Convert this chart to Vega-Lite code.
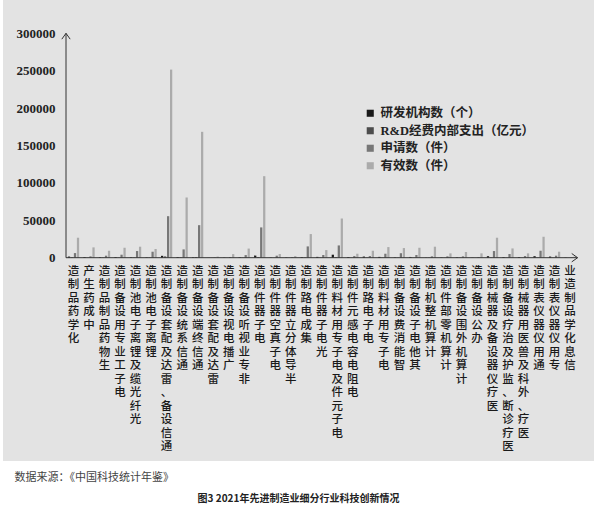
{
  "$schema": "https://vega.github.io/schema/vega-lite/v6.json",
  "width": 591,
  "height": 461,
  "autosize": {"type": "none"},
  "padding": {"left": 3, "top": 0, "right": 6, "bottom": 48},
  "background": "white",
  "title": {
    "text": "图3 2021年先进制造业细分行业科技创新情况",
    "orient": "bottom",
    "anchor": "middle",
    "frame": "group",
    "font": "Noto Sans CJK SC",
    "fontSize": 10,
    "fontWeight": "bold",
    "color": "#222",
    "offset": 12
  },
  "datasets": {
    "rd": [
      {"industry": "化学药品制造", "series": "研发机构数（个）", "value": 1500},
      {"industry": "化学药品制造", "series": "R&D经费内部支出（亿元）", "value": 560},
      {"industry": "化学药品制造", "series": "申请数（件）", "value": 6200},
      {"industry": "化学药品制造", "series": "有效数（件）", "value": 26700},
      {"industry": "中成药生产", "series": "研发机构数（个）", "value": 900},
      {"industry": "中成药生产", "series": "R&D经费内部支出（亿元）", "value": 150},
      {"industry": "中成药生产", "series": "申请数（件）", "value": 1800},
      {"industry": "中成药生产", "series": "有效数（件）", "value": 13800},
      {"industry": "生物药品制品制造", "series": "研发机构数（个）", "value": 700},
      {"industry": "生物药品制品制造", "series": "R&D经费内部支出（亿元）", "value": 260},
      {"industry": "生物药品制品制造", "series": "申请数（件）", "value": 2700},
      {"industry": "生物药品制品制造", "series": "有效数（件）", "value": 9300},
      {"industry": "电子工业专用设备制造", "series": "研发机构数（个）", "value": 900},
      {"industry": "电子工业专用设备制造", "series": "R&D经费内部支出（亿元）", "value": 250},
      {"industry": "电子工业专用设备制造", "series": "申请数（件）", "value": 4000},
      {"industry": "电子工业专用设备制造", "series": "有效数（件）", "value": 13300},
      {"industry": "光纤光缆及锂离子电池制造", "series": "研发机构数（个）", "value": 600},
      {"industry": "光纤光缆及锂离子电池制造", "series": "R&D经费内部支出（亿元）", "value": 330},
      {"industry": "光纤光缆及锂离子电池制造", "series": "申请数（件）", "value": 8900},
      {"industry": "光纤光缆及锂离子电池制造", "series": "有效数（件）", "value": 14700},
      {"industry": "锂离子电池制造", "series": "研发机构数（个）", "value": 500},
      {"industry": "锂离子电池制造", "series": "R&D经费内部支出（亿元）", "value": 300},
      {"industry": "锂离子电池制造", "series": "申请数（件）", "value": 8000},
      {"industry": "锂离子电池制造", "series": "有效数（件）", "value": 11600},
      {"industry": "通信设备、雷达及配套设备制造", "series": "研发机构数（个）", "value": 2500},
      {"industry": "通信设备、雷达及配套设备制造", "series": "R&D经费内部支出（亿元）", "value": 1700},
      {"industry": "通信设备、雷达及配套设备制造", "series": "申请数（件）", "value": 55500},
      {"industry": "通信设备、雷达及配套设备制造", "series": "有效数（件）", "value": 251500},
      {"industry": "通信系统设备制造", "series": "研发机构数（个）", "value": 900},
      {"industry": "通信系统设备制造", "series": "R&D经费内部支出（亿元）", "value": 560},
      {"industry": "通信系统设备制造", "series": "申请数（件）", "value": 11100},
      {"industry": "通信系统设备制造", "series": "有效数（件）", "value": 80500},
      {"industry": "通信终端设备制造", "series": "研发机构数（个）", "value": 700},
      {"industry": "通信终端设备制造", "series": "R&D经费内部支出（亿元）", "value": 960},
      {"industry": "通信终端设备制造", "series": "申请数（件）", "value": 43500},
      {"industry": "通信终端设备制造", "series": "有效数（件）", "value": 168300},
      {"industry": "雷达及配套设备制造", "series": "研发机构数（个）", "value": 100},
      {"industry": "雷达及配套设备制造", "series": "R&D经费内部支出（亿元）", "value": 90},
      {"industry": "雷达及配套设备制造", "series": "申请数（件）", "value": 500},
      {"industry": "雷达及配套设备制造", "series": "有效数（件）", "value": 1500},
      {"industry": "广播电视设备制造", "series": "研发机构数（个）", "value": 300},
      {"industry": "广播电视设备制造", "series": "R&D经费内部支出（亿元）", "value": 40},
      {"industry": "广播电视设备制造", "series": "申请数（件）", "value": 900},
      {"industry": "广播电视设备制造", "series": "有效数（件）", "value": 4800},
      {"industry": "非专业视听设备制造", "series": "研发机构数（个）", "value": 600},
      {"industry": "非专业视听设备制造", "series": "R&D经费内部支出（亿元）", "value": 120},
      {"industry": "非专业视听设备制造", "series": "申请数（件）", "value": 3500},
      {"industry": "非专业视听设备制造", "series": "有效数（件）", "value": 12200},
      {"industry": "电子器件制造", "series": "研发机构数（个）", "value": 2800},
      {"industry": "电子器件制造", "series": "R&D经费内部支出（亿元）", "value": 800},
      {"industry": "电子器件制造", "series": "申请数（件）", "value": 40500},
      {"industry": "电子器件制造", "series": "有效数（件）", "value": 109000},
      {"industry": "电子真空器件制造", "series": "研发机构数（个）", "value": 300},
      {"industry": "电子真空器件制造", "series": "R&D经费内部支出（亿元）", "value": 40},
      {"industry": "电子真空器件制造", "series": "申请数（件）", "value": 2700},
      {"industry": "电子真空器件制造", "series": "有效数（件）", "value": 4900},
      {"industry": "半导体分立器件制造", "series": "研发机构数（个）", "value": 400},
      {"industry": "半导体分立器件制造", "series": "R&D经费内部支出（亿元）", "value": 60},
      {"industry": "半导体分立器件制造", "series": "申请数（件）", "value": 700},
      {"industry": "半导体分立器件制造", "series": "有效数（件）", "value": 2200},
      {"industry": "集成电路制造", "series": "研发机构数（个）", "value": 800},
      {"industry": "集成电路制造", "series": "R&D经费内部支出（亿元）", "value": 380},
      {"industry": "集成电路制造", "series": "申请数（件）", "value": 15100},
      {"industry": "集成电路制造", "series": "有效数（件）", "value": 31600},
      {"industry": "光电子器件制造", "series": "研发机构数（个）", "value": 1100},
      {"industry": "光电子器件制造", "series": "R&D经费内部支出（亿元）", "value": 200},
      {"industry": "光电子器件制造", "series": "申请数（件）", "value": 3600},
      {"industry": "光电子器件制造", "series": "有效数（件）", "value": 10200},
      {"industry": "电子元件及电子专用材料制造", "series": "研发机构数（个）", "value": 4000},
      {"industry": "电子元件及电子专用材料制造", "series": "R&D经费内部支出（亿元）", "value": 600},
      {"industry": "电子元件及电子专用材料制造", "series": "申请数（件）", "value": 16400},
      {"industry": "电子元件及电子专用材料制造", "series": "有效数（件）", "value": 52400},
      {"industry": "电阻电容电感元件制造", "series": "研发机构数（个）", "value": 900},
      {"industry": "电阻电容电感元件制造", "series": "R&D经费内部支出（亿元）", "value": 100},
      {"industry": "电阻电容电感元件制造", "series": "申请数（件）", "value": 2200},
      {"industry": "电阻电容电感元件制造", "series": "有效数（件）", "value": 5300},
      {"industry": "电子电路制造", "series": "研发机构数（个）", "value": 1500},
      {"industry": "电子电路制造", "series": "R&D经费内部支出（亿元）", "value": 180},
      {"industry": "电子电路制造", "series": "申请数（件）", "value": 2200},
      {"industry": "电子电路制造", "series": "有效数（件）", "value": 9300},
      {"industry": "电子专用材料制造", "series": "研发机构数（个）", "value": 1100},
      {"industry": "电子专用材料制造", "series": "R&D经费内部支出（亿元）", "value": 160},
      {"industry": "电子专用材料制造", "series": "申请数（件）", "value": 5300},
      {"industry": "电子专用材料制造", "series": "有效数（件）", "value": 14200},
      {"industry": "智能消费设备制造", "series": "研发机构数（个）", "value": 500},
      {"industry": "智能消费设备制造", "series": "R&D经费内部支出（亿元）", "value": 200},
      {"industry": "智能消费设备制造", "series": "申请数（件）", "value": 6000},
      {"industry": "智能消费设备制造", "series": "有效数（件）", "value": 12900},
      {"industry": "其他电子设备制造", "series": "研发机构数（个）", "value": 1000},
      {"industry": "其他电子设备制造", "series": "R&D经费内部支出（亿元）", "value": 150},
      {"industry": "其他电子设备制造", "series": "申请数（件）", "value": 3600},
      {"industry": "其他电子设备制造", "series": "有效数（件）", "value": 13300},
      {"industry": "计算机整机制造", "series": "研发机构数（个）", "value": 200},
      {"industry": "计算机整机制造", "series": "R&D经费内部支出（亿元）", "value": 200},
      {"industry": "计算机整机制造", "series": "申请数（件）", "value": 1800},
      {"industry": "计算机整机制造", "series": "有效数（件）", "value": 14700},
      {"industry": "计算机零部件制造", "series": "研发机构数（个）", "value": 400},
      {"industry": "计算机零部件制造", "series": "R&D经费内部支出（亿元）", "value": 80},
      {"industry": "计算机零部件制造", "series": "申请数（件）", "value": 1800},
      {"industry": "计算机零部件制造", "series": "有效数（件）", "value": 5800},
      {"industry": "计算机外围设备制造", "series": "研发机构数（个）", "value": 500},
      {"industry": "计算机外围设备制造", "series": "R&D经费内部支出（亿元）", "value": 150},
      {"industry": "计算机外围设备制造", "series": "申请数（件）", "value": 1800},
      {"industry": "计算机外围设备制造", "series": "有效数（件）", "value": 7600},
      {"industry": "办公设备制造", "series": "研发机构数（个）", "value": 200},
      {"industry": "办公设备制造", "series": "R&D经费内部支出（亿元）", "value": 30},
      {"industry": "办公设备制造", "series": "申请数（件）", "value": 700},
      {"industry": "办公设备制造", "series": "有效数（件）", "value": 5800},
      {"industry": "医疗仪器设备及器械制造", "series": "研发机构数（个）", "value": 2000},
      {"industry": "医疗仪器设备及器械制造", "series": "R&D经费内部支出（亿元）", "value": 320},
      {"industry": "医疗仪器设备及器械制造", "series": "申请数（件）", "value": 8900},
      {"industry": "医疗仪器设备及器械制造", "series": "有效数（件）", "value": 26700},
      {"industry": "医疗诊断、监护及治疗设备制造", "series": "研发机构数（个）", "value": 900},
      {"industry": "医疗诊断、监护及治疗设备制造", "series": "R&D经费内部支出（亿元）", "value": 150},
      {"industry": "医疗诊断、监护及治疗设备制造", "series": "申请数（件）", "value": 4900},
      {"industry": "医疗诊断、监护及治疗设备制造", "series": "有效数（件）", "value": 12400},
      {"industry": "医疗、外科及兽医用器械制造", "series": "研发机构数（个）", "value": 800},
      {"industry": "医疗、外科及兽医用器械制造", "series": "R&D经费内部支出（亿元）", "value": 60},
      {"industry": "医疗、外科及兽医用器械制造", "series": "申请数（件）", "value": 2200},
      {"industry": "医疗、外科及兽医用器械制造", "series": "有效数（件）", "value": 5800},
      {"industry": "通用仪器仪表制造", "series": "研发机构数（个）", "value": 2000},
      {"industry": "通用仪器仪表制造", "series": "R&D经费内部支出（亿元）", "value": 200},
      {"industry": "通用仪器仪表制造", "series": "申请数（件）", "value": 9300},
      {"industry": "通用仪器仪表制造", "series": "有效数（件）", "value": 28000},
      {"industry": "专用仪器仪表制造", "series": "研发机构数（个）", "value": 1500},
      {"industry": "专用仪器仪表制造", "series": "R&D经费内部支出（亿元）", "value": 180},
      {"industry": "专用仪器仪表制造", "series": "申请数（件）", "value": 2700},
      {"industry": "专用仪器仪表制造", "series": "有效数（件）", "value": 8000},
      {"industry": "信息化学品制造业", "series": "研发机构数（个）", "value": 300},
      {"industry": "信息化学品制造业", "series": "R&D经费内部支出（亿元）", "value": 30},
      {"industry": "信息化学品制造业", "series": "申请数（件）", "value": 500},
      {"industry": "信息化学品制造业", "series": "有效数（件）", "value": 1500}
    ]
  },
  "layer": [
    {
      "data": {"name": "rd"},
      "mark": {"type": "bar"},
      "encoding": {
        "x": {
          "field": "industry",
          "type": "nominal",
          "sort": null,
          "scale": {"range": [63, 574.6], "paddingInner": 0.033, "paddingOuter": 0},
          "axis": {
            "orient": "bottom",
            "offset": -203,
            "domain": false,
            "ticks": false,
            "grid": false,
            "labelAngle": 0,
            "labelAlign": "center",
            "labelBaseline": "top",
            "labelPadding": 7,
            "labelExpr": "reverse(split(datum.label, ''))",
            "labelFont": "Noto Sans CJK SC",
            "labelFontSize": 11.5,
            "labelFontWeight": 500,
            "labelLineHeight": 13.5,
            "labelColor": "#1a1a1a",
            "labelOverlap": false,
            "labelLimit": 0,
            "title": "数据来源：《中国科技统计年鉴》",
            "titleAnchor": "start",
            "titleAlign": "left",
            "titleBaseline": "middle",
            "titleX": 11,
            "titleY": 219,
            "titleFont": "Noto Sans CJK SC",
            "titleFontSize": 11,
            "titleFontWeight": "normal",
            "titleColor": "#444"
          }
        },
        "xOffset": {
          "field": "series",
          "sort": ["研发机构数（个）", "R&D经费内部支出（亿元）", "申请数（件）", "有效数（件）"],
          "scale": {"paddingInner": 0.25, "paddingOuter": 0.625}
        },
        "y": {
          "field": "value",
          "type": "quantitative",
          "stack": null,
          "scale": {"domain": [-271791, 344519], "nice": false, "zero": false},
          "axis": {
            "orient": "left",
            "offset": -54,
            "values": [0, 50000, 100000, 150000, 200000, 250000, 300000],
            "format": "d",
            "domain": false,
            "ticks": false,
            "grid": false,
            "labelPadding": 2,
            "labelFont": "Liberation Serif",
            "labelFontWeight": "bold",
            "labelFontSize": 13,
            "labelColor": "#222",
            "labelOverlap": false,
            "title": null
          }
        },
        "color": {
          "field": "series",
          "type": "nominal",
          "scale": {
            "domain": ["研发机构数（个）", "R&D经费内部支出（亿元）", "申请数（件）", "有效数（件）"],
            "range": ["#1a1a1a", "#4d4d4d", "#777777", "#ababab"]
          },
          "legend": {
            "orient": "none",
            "legendX": 361,
            "legendY": 107,
            "direction": "vertical",
            "title": null,
            "padding": 0,
            "symbolType": "square",
            "symbolSize": 50,
            "symbolStrokeWidth": 0,
            "labelFont": "Liberation Serif, Noto Sans CJK SC",
            "labelFontWeight": "bold",
            "labelFontSize": 12.5,
            "labelColor": "#222",
            "labelOffset": 4,
            "rowPadding": 4.5
          }
        }
      }
    },
    {
      "data": {"values": [{}]},
      "mark": {"type": "rule", "color": "#333", "strokeWidth": 1},
      "encoding": {
        "x": {"datum": "化学药品制造", "type": "nominal", "bandPosition": 0},
        "y": {"datum": 0, "type": "quantitative"},
        "y2": {"datum": 300000}
      }
    },
    {
      "data": {"values": [{}]},
      "mark": {"type": "rule", "color": "#333", "strokeWidth": 1},
      "encoding": {
        "x": {"datum": "化学药品制造", "type": "nominal", "bandPosition": 0},
        "x2": {"datum": "信息化学品制造业", "bandPosition": 1},
        "y": {"datum": 0, "type": "quantitative"}
      }
    },
    {
      "data": {"values": [{}]},
      "mark": {"type": "point", "shape": "M-1,1.4L0,0L1,1.4", "filled": false, "size": 70, "stroke": "#333", "strokeWidth": 1, "opacity": 1},
      "encoding": {
        "x": {"datum": "化学药品制造", "type": "nominal", "bandPosition": 0},
        "y": {"datum": 300000, "type": "quantitative"}
      }
    },
    {
      "data": {"values": [{}]},
      "mark": {"type": "point", "shape": "M-1.4,-1L0,0L-1.4,1", "filled": false, "size": 70, "stroke": "#333", "strokeWidth": 1, "opacity": 1},
      "encoding": {
        "x": {"datum": "信息化学品制造业", "type": "nominal", "bandPosition": 1},
        "y": {"datum": 0, "type": "quantitative"}
      }
    }
  ],
  "config": {
    "view": {"fill": "#e3e3e3", "stroke": null},
    "font": "Noto Sans CJK SC"
  }
}
